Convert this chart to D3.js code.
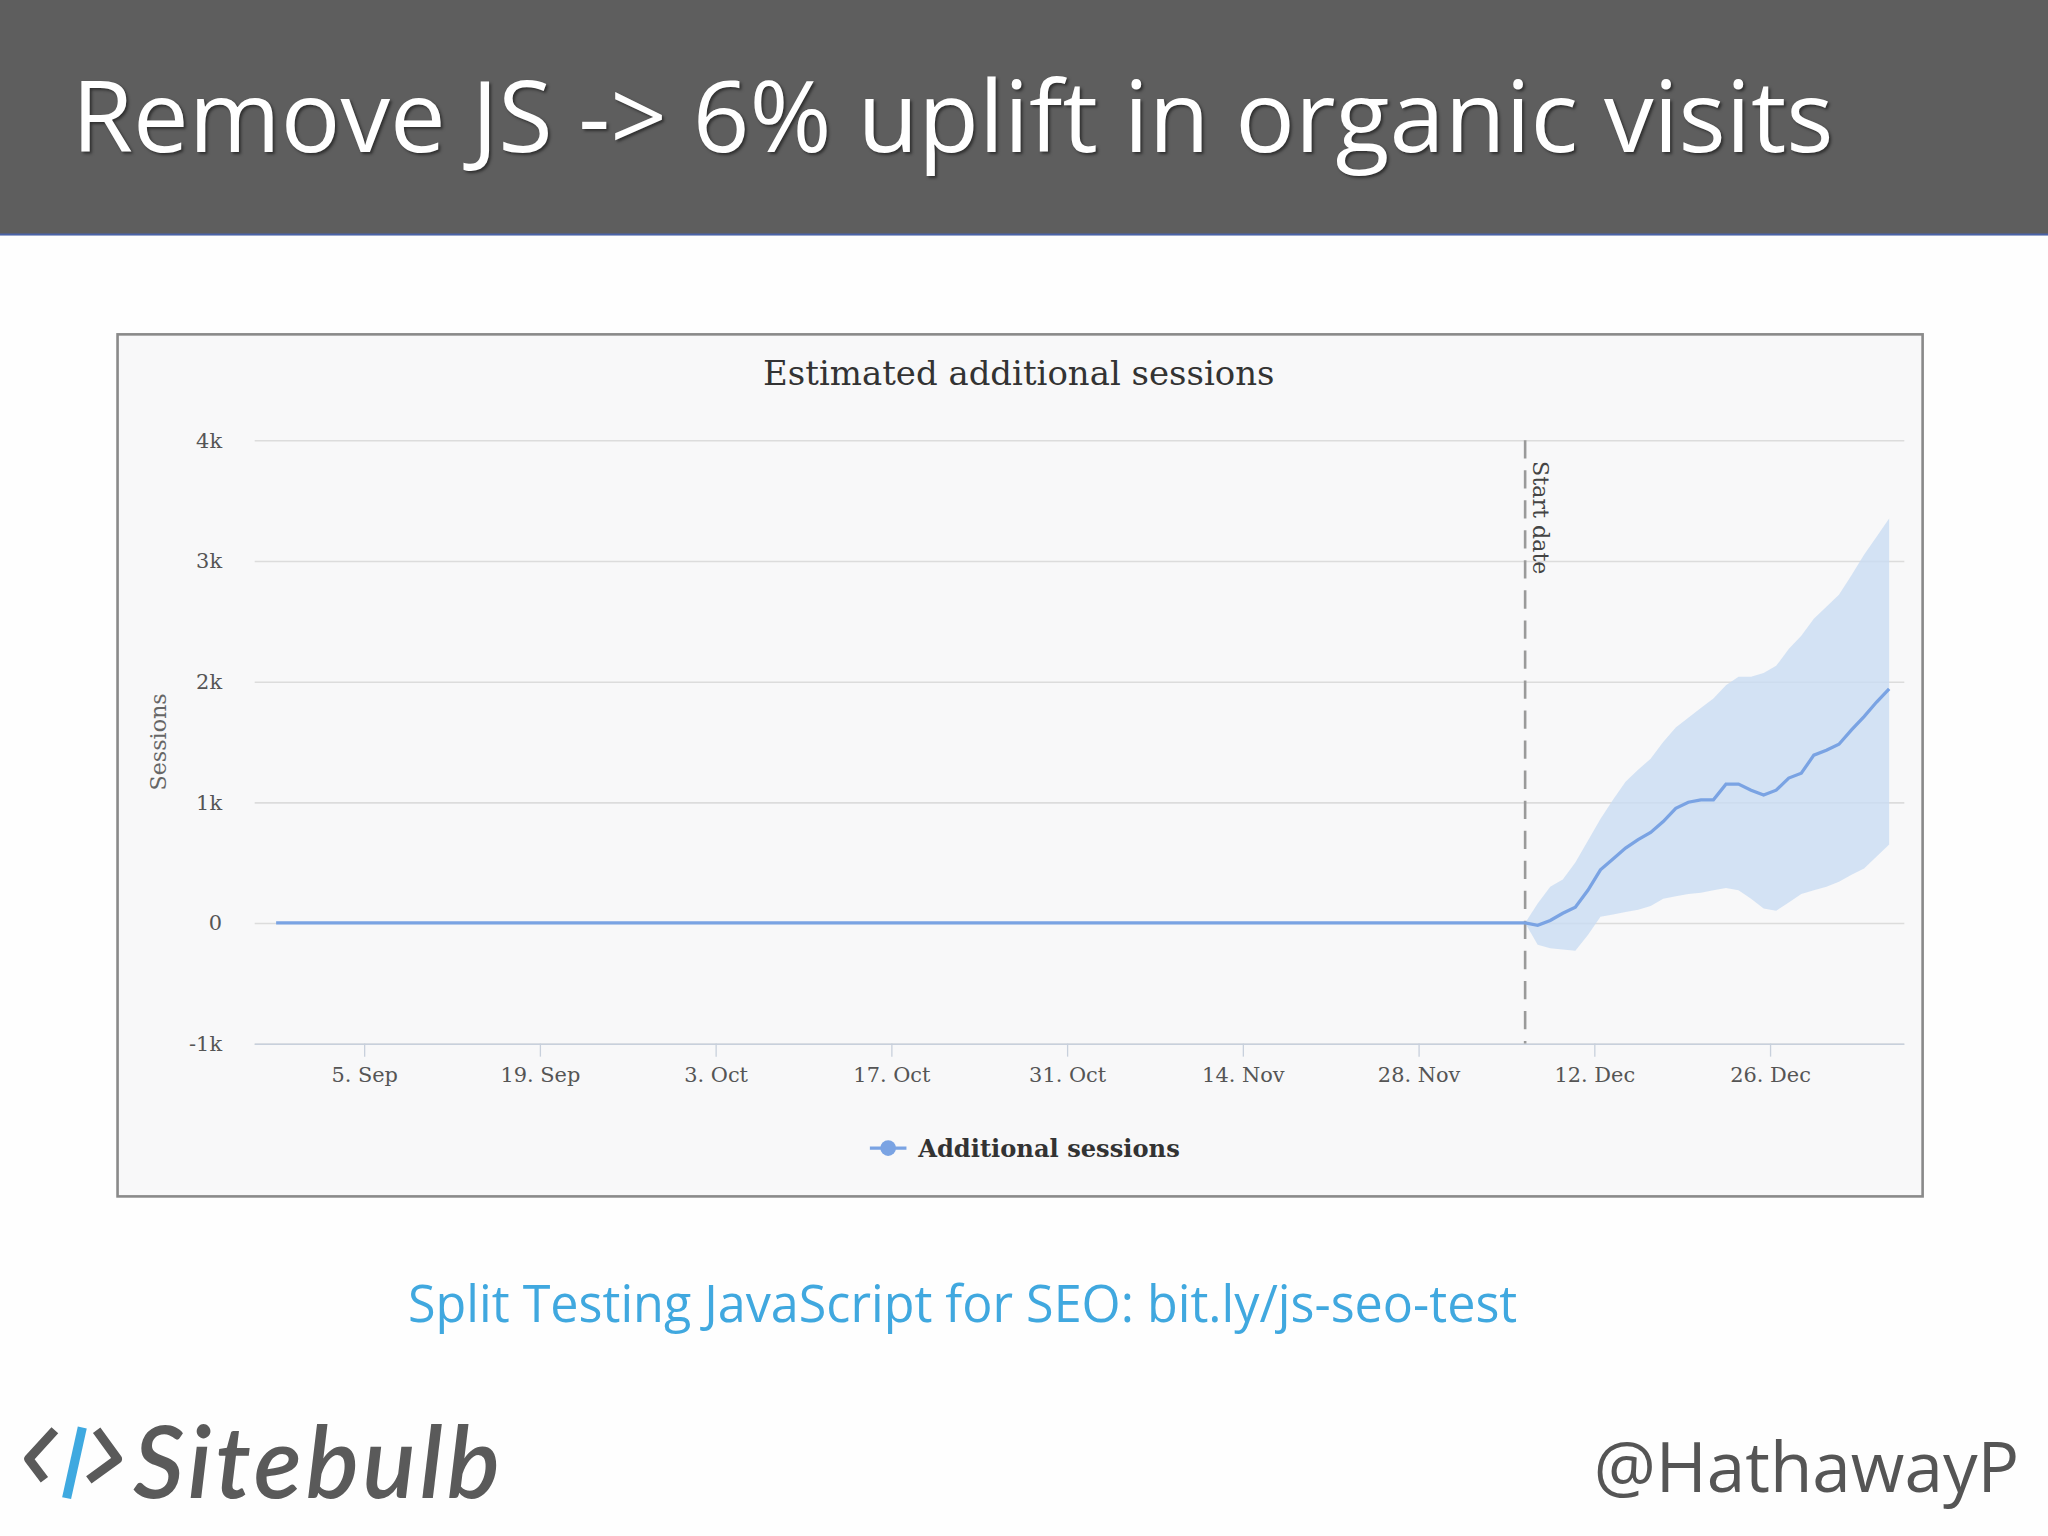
<!DOCTYPE html>
<html><head><meta charset="utf-8">
<script src="https://cdn.jsdelivr.net/npm/d3@7"></script>
<style>html,body{margin:0;padding:0;background:#fff;}svg{display:block;}</style>
</head><body>
<svg id="c" width="2048" height="1536" viewBox="0 0 1568 1176"></svg>
<script>
const yTicks = [-1000, 0, 1000, 2000, 3000, 4000];
const yTickLabels = ["-1k", "0", "1k", "2k", "3k", "4k"];
const xTickDates = ["2017-09-05","2017-09-19","2017-10-03","2017-10-17","2017-10-31","2017-11-14","2017-11-28","2017-12-12","2017-12-26"];
const xTickLabels = ["5. Sep","19. Sep","3. Oct","17. Oct","31. Oct","14. Nov","28. Nov","12. Dec","26. Dec"];
const seriesStart = "2017-08-28";
const startDate = "2017-12-06";
// additional sessions from start date (daily)
const postValues = [0,-20,20,80,130,270,440,530,620,690,750,840,950,1000,1020,1020,1150,1150,1100,1060,1100,1200,1240,1390,1430,1480,1600,1710,1830,1940];
const postUpper = [0,160,300,360,500,680,860,1020,1170,1270,1360,1500,1620,1700,1780,1860,1970,2040,2040,2070,2130,2270,2380,2520,2620,2720,2880,3050,3200,3350];
const postLower = [0,-180,-210,-220,-230,-100,50,70,90,110,140,200,220,240,250,270,290,270,200,120,100,170,240,270,300,340,400,450,550,650];

const svg = d3.select("#c");
const parse = d3.timeParse("%Y-%m-%d");
const noon = d => d3.timeHour.offset(parse(d), 12);
const SERIF = "DejaVu Serif, serif";

svg.append("rect").attr("width",1568).attr("height",1176).attr("fill","#fefefe");
svg.append("rect").attr("width",1568).attr("height",180).attr("fill","#5e5e5e");
svg.append("line").attr("x1",0).attr("x2",1568).attr("y1",179.5).attr("y2",179.5).attr("stroke","#4a63a8").attr("stroke-width",1.5);
svg.append("text").attr("x",55).attr("y",116).attr("fill","#fff")
  .attr("font-family","Open Sans, sans-serif").attr("font-size",76)
  .style("text-shadow","2px 2px 3px rgba(0,0,0,0.5)")
  .text("Remove JS -> 6% uplift in organic visits");

svg.append("rect").attr("x",90).attr("y",256).attr("width",1382).attr("height",660)
  .attr("fill","#f8f8f9").attr("stroke","#8a8a8a").attr("stroke-width",2);
svg.append("text").attr("x",780).attr("y",295).attr("text-anchor","middle")
  .attr("font-family",SERIF).attr("font-size",26).attr("fill","#333")
  .text("Estimated additional sessions");

const x = d3.scaleTime()
  .domain([d3.timeHour.offset(parse("2017-08-27"), 7), d3.timeHour.offset(parse("2018-01-05"), 17)])
  .range([195, 1458]);
const y = d3.scaleLinear().domain([-1000, 4000]).range([799, 337]);

const yAxis = d3.axisLeft(y).tickValues(yTicks).tickSize(-(1458-195))
  .tickFormat((d,i) => yTickLabels[i]);
const gy = svg.append("g").attr("transform","translate(195,0)").call(yAxis);
gy.select(".domain").remove();
gy.selectAll(".tick line").attr("stroke","#dcdcdc").attr("stroke-width",1.2);
gy.selectAll(".tick text").attr("x",-25).attr("font-family",SERIF)
  .attr("font-size",16).attr("fill","#555");

const xAxis = d3.axisBottom(x).tickValues(xTickDates.map(parse)).tickSize(10)
  .tickFormat((d,i) => xTickLabels[i]);
const gx = svg.append("g").attr("transform","translate(0,799)").call(xAxis);
gx.select(".domain").attr("stroke","#c8d0dc").attr("stroke-width",1.2).attr("d","M195,0.5H1458");
gx.selectAll(".tick line").attr("stroke","#c8d0dc");
gx.selectAll(".tick text").attr("y",18).attr("font-family",SERIF)
  .attr("font-size",16).attr("fill","#555");

svg.append("text").attr("transform","translate(127,568) rotate(-90)").attr("text-anchor","middle")
  .attr("font-family",SERIF).attr("font-size",17).attr("fill","#666").text("Sessions");

const sd = noon(startDate);
const preDates = d3.timeDay.range(noon(seriesStart), sd);
const pre = preDates.map(d => ({d, v:0, lo:0, hi:0}));
const post = postValues.map((v,i) => ({d:d3.timeDay.offset(sd,i), v, lo:postLower[i], hi:postUpper[i]}));
const data = pre.concat(post);

svg.append("path").datum(post).attr("fill","#c9dcf3").attr("fill-opacity",0.8)
  .attr("d", d3.area().x(d=>x(d.d)).y0(d=>y(d.lo)).y1(d=>y(d.hi)));

svg.append("line").attr("x1",x(sd)).attr("x2",x(sd)).attr("y1",337).attr("y2",799)
  .attr("stroke","#9a9a9a").attr("stroke-width",2).attr("stroke-dasharray","14,9");
svg.append("text").attr("transform",`translate(${x(sd)+6},353) rotate(90)`)
  .attr("font-family",SERIF).attr("font-size",17).attr("fill","#444").text("Start date");

svg.append("path").datum(data).attr("fill","none").attr("stroke","#7aa3e3").attr("stroke-width",2.5)
  .attr("d", d3.line().x(d=>x(d.d)).y(d=>y(d.v)));

svg.append("line").attr("x1",666).attr("x2",694).attr("y1",879).attr("y2",879).attr("stroke","#7aa3e3").attr("stroke-width",2.5);
svg.append("circle").attr("cx",680).attr("cy",879).attr("r",6).attr("fill","#7aa3e3");
svg.append("text").attr("x",703).attr("y",886).attr("font-family",SERIF)
  .attr("font-size",18.5).attr("font-weight","bold").attr("fill","#333").text("Additional sessions");

svg.append("text").attr("x",737).attr("y",1012).attr("text-anchor","middle")
  .attr("font-family","Open Sans, sans-serif").attr("font-size",38.5).attr("fill","#40a8df")
  .text("Split Testing JavaScript for SEO: bit.ly/js-seo-test");
const lg = svg.append("g").attr("transform","translate(20,1095)");
lg.append("path").attr("d","M22,0 L2,22 L14,38").attr("fill","none").attr("stroke","#5a5a5a").attr("stroke-width",7).attr("stroke-linejoin","round");
lg.append("path").attr("d","M54,0 L70,22 L48,38").attr("fill","none").attr("stroke","#5a5a5a").attr("stroke-width",7).attr("stroke-linejoin","round");
lg.append("line").attr("x1",43).attr("y1",-2).attr("x2",31).attr("y2",52).attr("stroke","#3fa9e0").attr("stroke-width",7);
svg.append("text").attr("x",102).attr("y",1147).attr("font-family","Lato, sans-serif").attr("font-style","italic")
  .attr("font-weight","600").attr("font-size",76).attr("letter-spacing",3).attr("fill","#5a5a5a").text("Sitebulb");
svg.append("text").attr("x",1546).attr("y",1142).attr("text-anchor","end")
  .attr("font-family","Open Sans, sans-serif").attr("font-size",53).attr("fill","#555").text("@HathawayP");
</script>
</body></html>
